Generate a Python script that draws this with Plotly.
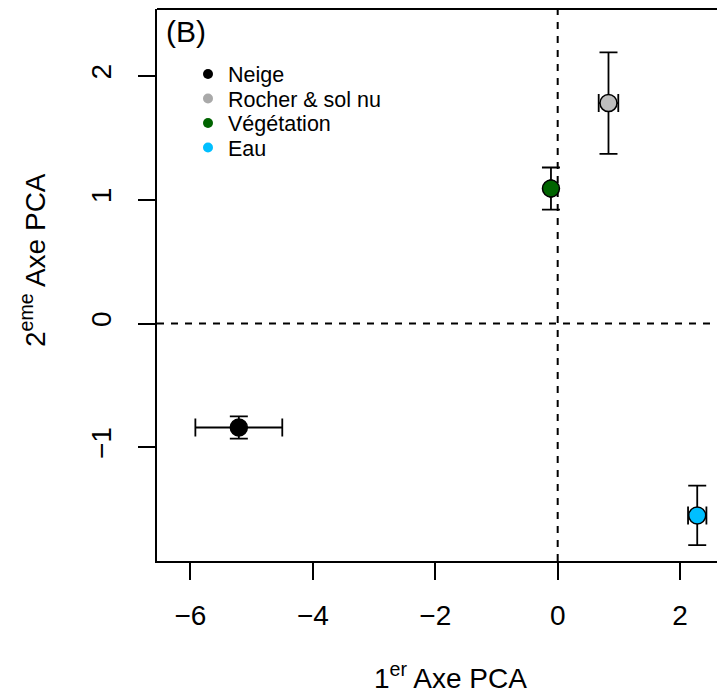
import plotly.graph_objects as go

# ---- data ----
categories = ["Neige", "Rocher & sol nu", "Végétation", "Eau"]
pc1 = [-5.21, 0.83, -0.11, 2.28]
pc2 = [-0.84, 1.78, 1.09, -1.55]
pc1_err = [0.71, 0.16, 0.02, 0.15]
pc2_err = [0.09, 0.41, 0.17, 0.24]
point_colors = ["#000000", "#BEBEBE", "#006400", "#00BFFF"]
legend_colors = ["#000000", "#A9A9A9", "#006400", "#00BFFF"]

x_ticks = [-6, -4, -2, 0, 2]
y_ticks = [-1, 0, 1, 2]
x_range = [-6.547, 2.603]
y_range = [-1.918, 2.540]

FONT = "Liberation Sans, Arial, Helvetica, sans-serif"

# plot-area geometry in pixels (for placing text/legends)
L, T, W, H = 157, 9, 560, 552


def px_x(p):
    return (p - L) / W


def px_y(p):
    return (T + H - p) / H


fig = go.Figure()

# data points with error bars
for name, x, y, ex, ey, c in zip(categories, pc1, pc2, pc1_err, pc2_err, point_colors):
    fig.add_trace(go.Scatter(
        x=[x], y=[y], mode="markers", name=name, showlegend=False,
        marker=dict(size=17, color=c, line=dict(color="black", width=1.5)),
        error_x=dict(type="data", array=[ex], color="black", thickness=1.8, width=9),
        error_y=dict(type="data", array=[ey], color="black", thickness=1.8, width=9),
    ))

# legend entries (plain dots), one small legend per entry for tight spacing
legend_rows_px = [74, 98.5, 123, 147.5]
legend_ids = ["legend", "legend2", "legend3", "legend4"]
for name, c, lid in zip(categories, legend_colors, legend_ids):
    fig.add_trace(go.Scatter(
        x=[None], y=[None], mode="markers", name=name, legend=lid,
        marker=dict(size=10, color=c),
    ))

legend_layout = {}
for lid, ypx in zip(legend_ids, legend_rows_px):
    legend_layout[lid] = dict(
        x=px_x(188), y=px_y(ypx), xanchor="left", yanchor="middle",
        bgcolor="rgba(0,0,0,0)", borderwidth=0, itemsizing="trace",
        font=dict(family=FONT, size=21.5, color="black"),
    )

# dashed reference lines at 0
fig.add_shape(type="line", xref="x", yref="paper", x0=0, x1=0, y0=0, y1=1,
              line=dict(color="black", width=2, dash="7px,7px"), layer="below")
fig.add_shape(type="line", xref="paper", yref="y", x0=0, x1=1, y0=0, y1=0,
              line=dict(color="black", width=2, dash="7px,7px"), layer="below")
# top border of the box (right side is cropped in the reference)
fig.add_shape(type="line", xref="paper", yref="paper", x0=0, x1=1, y0=1, y1=1,
              line=dict(color="black", width=2))

fig.add_annotation(text="(B)", xref="paper", yref="paper", x=px_x(186), y=px_y(32),
                   xanchor="center", yanchor="middle", showarrow=False,
                   font=dict(family=FONT, size=30, color="black"))

fig.add_annotation(text="1<sup>er</sup> Axe PCA", xref="paper", yref="paper",
                   x=px_x(450), y=px_y(696),
                   xanchor="center", yanchor="bottom", showarrow=False,
                   font=dict(family=FONT, size=28, color="black"))
fig.add_annotation(text="2<sup>eme</sup> Axe PCA", xref="paper", yref="paper",
                   x=px_x(33), y=px_y(260), textangle=-90,
                   xanchor="center", yanchor="middle", showarrow=False,
                   font=dict(family=FONT, size=28, color="black"))

fig.update_layout(
    width=717, height=697,
    margin=dict(l=L, r=0, t=T, b=697 - T - H),
    paper_bgcolor="white", plot_bgcolor="white",
    font=dict(family=FONT, color="black"),
    showlegend=True,
    xaxis=dict(range=x_range, tickvals=x_ticks, ticks="outside", ticklen=17, tickwidth=1.8,
               tickcolor="black", showgrid=False, zeroline=False, showline=True,
               linecolor="black", linewidth=2, ticklabelstandoff=11,
               tickfont=dict(family=FONT, size=28, color="black")),
    yaxis=dict(range=y_range, tickvals=y_ticks, ticks="outside", ticklen=17, tickwidth=1.8,
               tickcolor="black", showgrid=False, zeroline=False, showline=True,
               linecolor="black", linewidth=2, tickangle=-90, ticklabelstandoff=16,
               tickfont=dict(family=FONT, size=28, color="black")),
    **legend_layout,
)

fig.write_html("out.html")
